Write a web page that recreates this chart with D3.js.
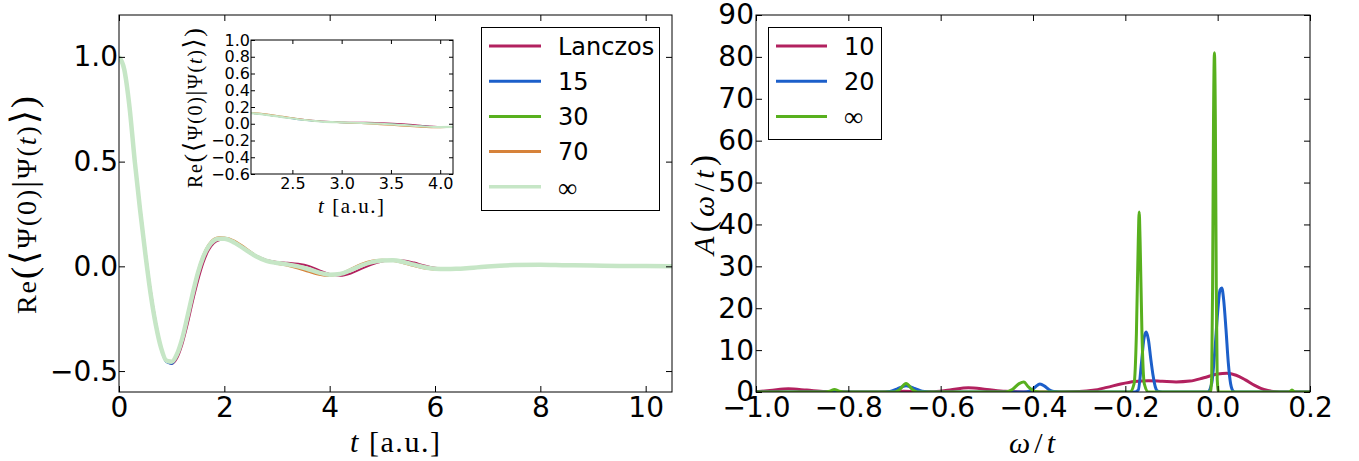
<!DOCTYPE html>
<html><head><meta charset="utf-8">
<script src="https://cdnjs.cloudflare.com/ajax/libs/d3/7.8.5/d3.min.js"></script>
<style>body{margin:0;background:#fff}svg{display:block}</style>
</head><body>
<svg id="c" width="1359" height="461"></svg>
<script>
// ---------------- DATA ----------------
const timeT = [0,0.1,0.2,0.3,0.4,0.5,0.6,0.7,0.8,0.9,1.0,1.1,1.2,1.3,1.4,1.5,1.6,1.7,1.8,1.9,2.0,
  2.2,2.4,2.6,2.8,3.0,3.2,3.4,3.6,3.8,4.0,4.2,4.4,4.6,4.8,5.0,5.2,5.4,5.6,5.8,6.0,6.2,6.4,6.6,6.8,7.0,
  7.5,8.0,8.5,9.0,9.5,10.0,10.5];
const reLanczos = [1.0,0.945,0.775,0.52,0.29,0.08,-0.11,-0.265,-0.385,-0.45,-0.465,-0.44,-0.375,-0.28,-0.17,-0.07,0.015,0.075,0.11,0.125,0.128,
  0.114,0.084,0.052,0.031,0.021,0.017,0.012,0.002,-0.018,-0.036,-0.045,-0.034,-0.012,0.009,0.023,0.03,0.028,0.018,0.004,-0.007,-0.013,-0.014,-0.011,-0.007,-0.003,
  0.004,0.008,0.007,0.004,0.002,0.001,0.0];
const re15 = [1.0,0.94,0.76,0.50,0.27,0.06,-0.13,-0.285,-0.398,-0.458,-0.466,-0.428,-0.352,-0.247,-0.137,-0.036,0.04,0.09,0.12,0.13,0.13,
  0.11,0.077,0.045,0.024,0.014,0.008,0.001,-0.012,-0.028,-0.039,-0.037,-0.02,0.002,0.019,0.028,0.029,0.022,0.009,-0.003,-0.011,-0.014,-0.012,-0.009,-0.005,-0.001,
  0.005,0.007,0.005,0.003,0.001,0.0,0.0];
const re30 = [1.0,0.94,0.76,0.50,0.27,0.06,-0.13,-0.28,-0.39,-0.45,-0.456,-0.42,-0.345,-0.24,-0.13,-0.03,0.045,0.095,0.123,0.132,0.132,
  0.112,0.080,0.048,0.026,0.016,0.009,0.001,-0.013,-0.029,-0.040,-0.037,-0.019,0.003,0.020,0.028,0.029,0.021,0.008,-0.004,-0.011,-0.013,-0.012,-0.009,-0.005,-0.001,
  0.006,0.008,0.005,0.003,0.001,0.001,0.0];
const re70 = [1.0,0.94,0.755,0.495,0.265,0.055,-0.135,-0.285,-0.392,-0.45,-0.452,-0.415,-0.338,-0.232,-0.12,-0.02,0.055,0.104,0.131,0.139,0.138,
  0.122,0.088,0.052,0.026,0.012,0.003,-0.01,-0.026,-0.04,-0.046,-0.036,-0.012,0.012,0.027,0.032,0.027,0.015,0.001,-0.01,-0.016,-0.016,-0.013,-0.009,-0.004,0.0,
  0.006,0.007,0.004,0.002,0.0,0.001,0.0];
const reInf = [1.0,0.94,0.76,0.50,0.27,0.06,-0.13,-0.28,-0.39,-0.45,-0.455,-0.42,-0.345,-0.24,-0.13,-0.03,0.045,0.095,0.123,0.132,0.132,
  0.112,0.080,0.048,0.026,0.016,0.009,0.000,-0.014,-0.030,-0.040,-0.036,-0.018,0.004,0.020,0.028,0.029,0.021,0.008,-0.004,-0.011,-0.013,-0.012,-0.009,-0.005,-0.001,
  0.006,0.008,0.005,0.004,0.002,0.001,0.0];

const omega10 = [-1.0,-0.97,-0.93,-0.89,-0.85,-0.80,-0.75,-0.71,-0.68,-0.65,-0.62,-0.58,-0.54,-0.50,-0.46,-0.42,-0.38,-0.34,-0.30,-0.27,-0.24,-0.21,-0.18,-0.15,-0.12,-0.09,-0.06,-0.03,0.0,0.02,0.04,0.06,0.08,0.10,0.12,0.15,0.2];
const spec10  = [0.1,0.35,0.75,0.45,0.1,0.0,0.0,0.05,0.2,0.05,0.05,0.5,1.0,0.6,0.15,0.02,0.0,0.0,0.1,0.4,1.1,1.9,2.5,2.7,2.55,2.4,2.6,3.4,4.3,4.5,4.0,2.9,1.6,0.6,0.15,0.02,0.0];
const omega20 = [-1.0,-0.73,-0.71,-0.695,-0.675,-0.655,-0.64,-0.62,-0.42,-0.405,-0.395,-0.385,-0.375,-0.365,-0.355,-0.34,
  -0.18,-0.172,-0.165,-0.16,-0.155,-0.15,-0.145,-0.14,-0.135,-0.13,-0.12,
  -0.022,-0.013,-0.006,0.0,0.005,0.009,0.013,0.018,0.023,0.028,0.034,0.04,0.2];
const spec20  = [0,0,0.15,0.7,1.5,0.8,0.2,0,0,0.3,1.2,1.9,1.4,0.5,0.1,0,
  0,0.5,7,12.5,14.3,12.5,8,4,1.2,0.2,0,
  0,2,10,19,24.3,24.8,22,15,7,2,0.2,0,0];
const omegaInf = [-1.0,-0.85,-0.84,-0.83,-0.82,-0.81,-0.70,-0.69,-0.675,-0.66,-0.65,-0.46,-0.445,-0.43,-0.42,-0.41,-0.395,-0.385,
  -0.19,-0.181,-0.176,-0.172,-0.17,-0.168,-0.164,-0.159,-0.15,
  -0.016,-0.013,-0.011,-0.009,-0.007,-0.005,-0.003,-0.001,0.002,0.155,0.161,0.167,0.2];
const specInf  = [0,0,0.2,0.6,0.2,0,0,0.5,2.0,0.5,0,0,0.6,2.0,2.4,1.2,0.1,0,
  0,2,14,36,43,36,14,2,0,
  0,3,25,65,81,65,25,3,0,0,0.5,0,0];

const leftLegendLabels = ["Lanczos","15","30","70","\u221e"];
const rightLegendLabels = ["10","20","\u221e"];
const leftXTicks = [0,2,4,6,8,10];
const leftYTicks = [-0.5,0.0,0.5,1.0];
const insetXTicks = [2.5,3.0,3.5,4.0];
const insetYTicks = [-0.6,-0.4,-0.2,0.0,0.2,0.4,0.6,0.8,1.0];
const rightXTicks = [-1.0,-0.8,-0.6,-0.4,-0.2,0.0,0.2];
const rightYTicks = [0,10,20,30,40,50,60,70,80,90];

// ---------------- STYLE ----------------
const C_CRIM = "#b2215f", C_BLUE = "#1c5fca", C_GREEN = "#58b01e", C_ORANGE = "#d6823a", C_PALE = "#c6e6c6";
const SANS = "DejaVu Sans, sans-serif";
const SERIF = "Liberation Serif, DejaVu Serif, serif";

const svg = d3.select("#c");
const defs = svg.append("defs");

function clip(id, x, y) {
  const [a,b] = x.range(), [c,d] = y.range();
  defs.append("clipPath").attr("id", id).append("rect")
    .attr("x", a).attr("y", d).attr("width", b - a).attr("height", c - d);
  return `url(#${id})`;
}

function frame(g, x, y, xt, yt, fx, fy, fs, tl, padX, padY) {
  const [x0,x1] = x.range(), [y0,y1] = y.range();
  const style = sel => {
    sel.select(".domain").remove();
    sel.selectAll(".tick line").attr("stroke", "#000").attr("stroke-width", 1);
    sel.selectAll(".tick text").attr("font-family", SANS).attr("font-size", fs).attr("fill", "#000");
  };
  g.append("g").attr("transform", `translate(0,${y0})`)
    .call(d3.axisBottom(x).tickValues(xt).tickFormat(fx).tickSizeInner(-tl).tickSizeOuter(0).tickPadding(padX)).call(style);
  g.append("g").attr("transform", `translate(0,${y1})`)
    .call(d3.axisTop(x).tickValues(xt).tickFormat("").tickSizeInner(-tl).tickSizeOuter(0)).call(style);
  g.append("g").attr("transform", `translate(${x0},0)`)
    .call(d3.axisLeft(y).tickValues(yt).tickFormat(fy).tickSizeInner(-tl).tickSizeOuter(0).tickPadding(padY)).call(style);
  g.append("g").attr("transform", `translate(${x1},0)`)
    .call(d3.axisRight(y).tickValues(yt).tickFormat("").tickSizeInner(-tl).tickSizeOuter(0)).call(style);
  g.append("rect").attr("x", x0).attr("y", y1).attr("width", x1 - x0).attr("height", y0 - y1)
    .attr("fill", "none").attr("stroke", "#000").attr("stroke-width", 1);
}

function mathText(g, x, y, rot, segs, size, len) {
  const t = g.append("text").attr("transform", `translate(${x},${y}) rotate(${rot})`)
    .attr("text-anchor", "middle").attr("font-family", SERIF).attr("font-size", size).attr("fill", "#000");
  if (len) t.attr("textLength", len).attr("lengthAdjust", "spacing");
  segs.forEach(([s, it, sc]) => {
    t.append("tspan").text(s).attr("font-style", it ? "italic" : "normal").attr("font-size", size * sc);
  });
  return t;
}

// ---------------- LEFT PANEL ----------------
const xL = d3.scaleLinear().domain([0, 10.5]).range([119, 672]);
const yL = d3.scaleLinear().domain([-0.6, 1.2]).range([392, 15]);
const gL = svg.append("g");
const seriesL = [
  {v: reLanczos, c: C_CRIM}, {v: re15, c: C_BLUE}, {v: re30, c: C_GREEN}, {v: re70, c: C_ORANGE}, {v: reInf, c: C_PALE}
];
const clipL = clip("clipL", xL, yL);
const lineL = d3.line().x(d => xL(d[0])).y(d => yL(d[1])).curve(d3.curveMonotoneX);
const plotL = gL.append("g").attr("clip-path", clipL);
seriesL.forEach((s, i) => {
  plotL.append("path").datum(d3.zip(timeT, s.v)).attr("d", lineL)
    .attr("fill", "none").attr("stroke", s.c).attr("stroke-width", i === 4 ? 4.5 : 2);
});
frame(gL, xL, yL, leftXTicks, leftYTicks, d3.format("d"), d3.format(".1f"), 28, 6, 5, 1);

// inset
const xI = d3.scaleLinear().domain([2.08, 4.13]).range([251, 453]);
const yI = d3.scaleLinear().domain([-0.6, 1.0]).range([174, 40]);
const gI = svg.append("g");
gI.append("rect").attr("x", 251).attr("y", 40).attr("width", 202).attr("height", 134).attr("fill", "#fff");
const clipI = clip("clipI", xI, yI);
const lineI = d3.line().x(d => xI(d[0])).y(d => yI(d[1])).curve(d3.curveMonotoneX);
const plotI = gI.append("g").attr("clip-path", clipI);
seriesL.forEach((s, i) => {
  plotI.append("path").datum(d3.zip(timeT, s.v)).attr("d", lineI)
    .attr("fill", "none").attr("stroke", s.c).attr("stroke-width", i === 4 ? 2.2 : 1.1);
});
frame(gI, xI, yI, insetXTicks, insetYTicks, d3.format(".1f"), d3.format(".1f"), 16, 4, 4, 1);

// left legend
const lg = svg.append("g");
lg.append("rect").attr("x", 481.5).attr("y", 27.5).attr("width", 178).attr("height", 183)
  .attr("fill", "#fff").attr("stroke", "#000").attr("stroke-width", 1);
leftLegendLabels.forEach((lab, i) => {
  const yy = 46 + i * 35.2;
  lg.append("line").attr("x1", 489).attr("x2", 541).attr("y1", yy).attr("y2", yy)
    .attr("stroke", seriesL[i].c).attr("stroke-width", i === 4 ? 3.5 : 3);
  lg.append("text").attr("x", 558).attr("y", yy).attr("dy", "0.36em").text(lab)
    .attr("font-family", i === 4 ? SERIF : SANS).attr("font-size", i === 4 ? 27 : 24).attr("fill", "#000");
});

// labels left
mathText(svg, 36, 205, -90, [["Re",0,1],["(",0,1.3],["\u27e8",0,1.3],["\u03a8",0,1],["(0)",0,1],["|",0,1.2],["\u03a8",0,1],["(",0,1],["t",1,1],[")",0,1],["\u27e9",0,1.3],[")",0,1.3]], 28, 218);
mathText(svg, 395, 452, 0, [["t",1,1],[" [a.u.]",0,1]], 30, 90);
mathText(svg, 202, 108, -90, [["Re",0,1],["(",0,1.3],["\u27e8",0,1.3],["\u03a8",0,1],["(0)",0,1],["|",0,1.2],["\u03a8",0,1],["(",0,1],["t",1,1],[")",0,1],["\u27e9",0,1.3],[")",0,1.3]], 20, 160);
mathText(svg, 351, 213, 0, [["t",1,1],[" [a.u.]",0,1]], 21, 66);

// ---------------- RIGHT PANEL ----------------
const xR = d3.scaleLinear().domain([-1.0, 0.2]).range([756, 1310]);
const yR = d3.scaleLinear().domain([0, 90]).range([392, 15]);
const gR = svg.append("g");
const clipR = clip("clipR", xR, yR);
const lineR = d3.line().x(d => xR(d[0])).y(d => yR(d[1])).curve(d3.curveMonotoneX);
const plotR = gR.append("g").attr("clip-path", clipR);
const seriesR = [
  {x: omega10, v: spec10, c: C_CRIM}, {x: omega20, v: spec20, c: C_BLUE}, {x: omegaInf, v: specInf, c: C_GREEN}
];
seriesR.forEach(s => {
  plotR.append("path").datum(d3.zip(s.x, s.v)).attr("d", lineR)
    .attr("fill", "none").attr("stroke", s.c).attr("stroke-width", 3).attr("stroke-linejoin", "round");
});
frame(gR, xR, yR, rightXTicks, rightYTicks, d3.format(".1f"), d3.format("d"), 28, 6, 5, 2);

// right legend
const rg = svg.append("g");
rg.append("rect").attr("x", 768.5).attr("y", 27.5).attr("width", 113).attr("height", 112)
  .attr("fill", "#fff").attr("stroke", "#000").attr("stroke-width", 1);
rightLegendLabels.forEach((lab, i) => {
  const yy = 46 + i * 35.3;
  rg.append("line").attr("x1", 776).attr("x2", 827).attr("y1", yy).attr("y2", yy)
    .attr("stroke", seriesR[i].c).attr("stroke-width", 3);
  rg.append("text").attr("x", 844).attr("y", yy).attr("dy", "0.36em").text(lab)
    .attr("font-family", i === 2 ? SERIF : SANS).attr("font-size", i === 2 ? 27 : 24).attr("fill", "#000");
});

mathText(svg, 714, 205, -90, [["A",1,1],["(",0,1.1],["\u03c9",1,1],["/",0,1],["t",1,1],[")",0,1.1]], 30, 100);
mathText(svg, 1032, 453, 0, [["\u03c9",1,1],["/",0,1],["t",1,1]], 30, 46);
</script>
</body></html>
